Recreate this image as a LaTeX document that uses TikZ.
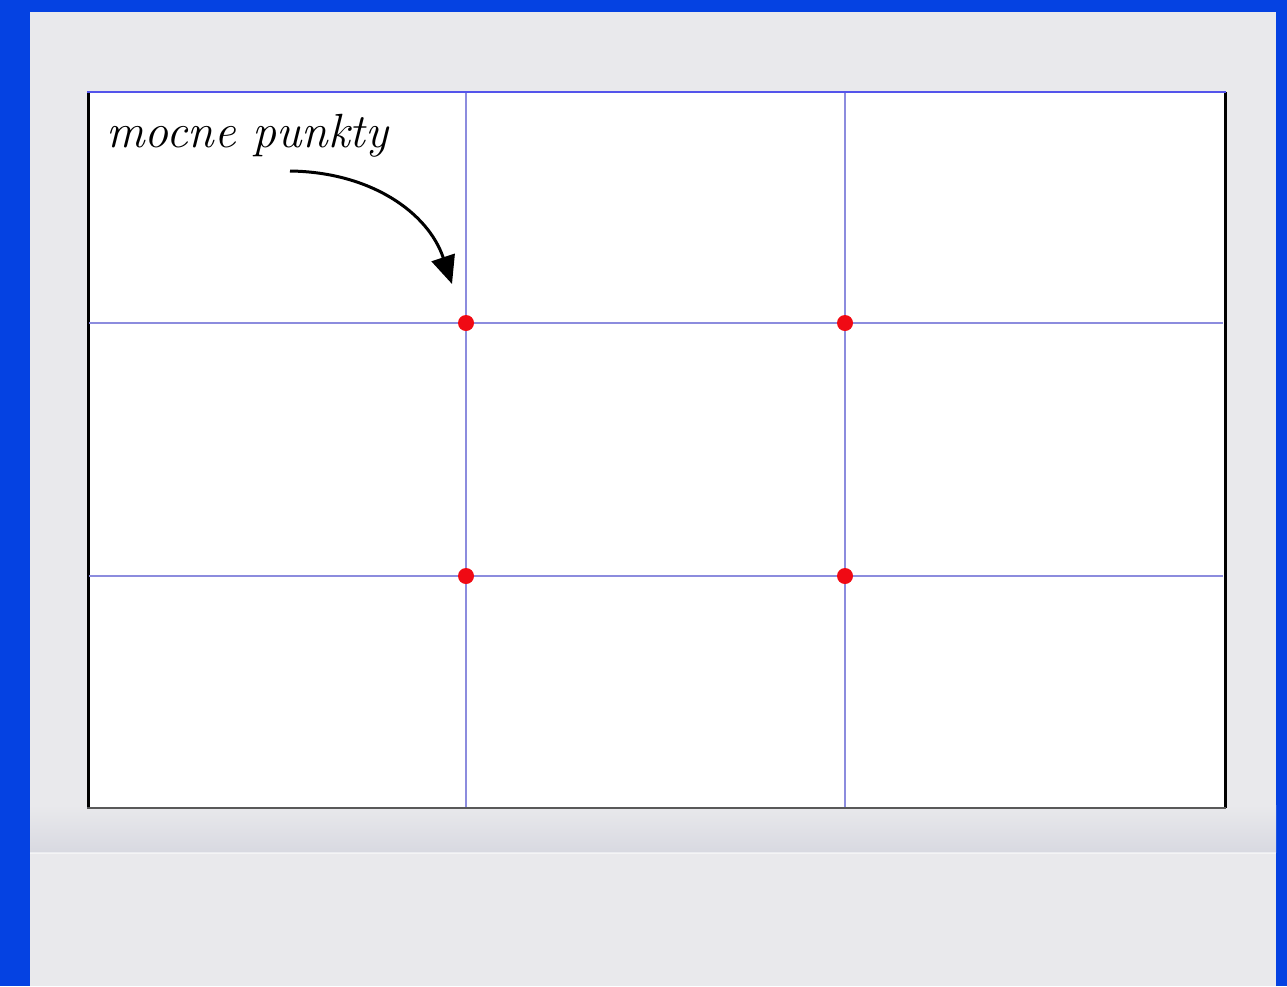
\documentclass[tikz,border=0pt]{standalone}
\usetikzlibrary{arrows.meta}
\definecolor{bgblue}{RGB}{5,66,226}
\definecolor{paper}{RGB}{233,233,236}
\definecolor{paperdark}{RGB}{216,217,225}
\definecolor{gridline}{RGB}{140,140,222}
\definecolor{dotred}{RGB}{240,10,20}
\tikzset{
  gridln/.style={draw=gridline, line width=2.4pt},
  strongpt/.style={circle, fill=dotred, inner sep=0pt, minimum size=16pt},
  pointer/.style={line width=3pt, -{Triangle[length=28pt, width=24pt]}},
  label/.style={font=\fontsize{48}{54}\selectfont\itshape, inner sep=0pt, anchor=base west}
}
\begin{document}
\begin{tikzpicture}[x=1pt, y=-1pt]
\useasboundingbox (0,0) rectangle (1287,986);
% background
\fill[bgblue] (0,0) rectangle (1287,986);
% polaroid frame
\fill[paper] (30,12) rectangle (1276,986);
\shade[top color=paper, bottom color=paperdark] (30,805) rectangle (1276,852);
\draw[white, line width=1.5pt, opacity=0.5] (30,853) -- (1276,853);
% photo area
\fill[white] (87,92) rectangle (1226,808);
\draw[black, line width=3pt] (88,92) -- (88,808);
\draw[black, line width=3pt] (1225,92) -- (1225,808);
\draw[gridline!60!blue, line width=2pt] (87,92) -- (1226,92);
\draw[black!65, line width=2.5pt] (87,808) -- (1226,808);
% grid coordinates
\coordinate (v1t) at (466,93);  \coordinate (v1b) at (466,807);
\coordinate (v2t) at (845,93);  \coordinate (v2b) at (845,807);
\coordinate (h1l) at (89,323);  \coordinate (h1r) at (1223,323);
\coordinate (h2l) at (89,576);  \coordinate (h2r) at (1223,576);
\draw[gridln] (v1t) -- (v1b);
\draw[gridln] (v2t) -- (v2b);
\draw[gridln] (h1l) -- (h1r);
\draw[gridln] (h2l) -- (h2r);
% strong points
\node[strongpt] (p1) at (466,323) {};
\node[strongpt] (p2) at (845,323) {};
\node[strongpt] (p3) at (466,576) {};
\node[strongpt] (p4) at (845,576) {};
% label and arrow
\node[label] (lbl) at (106,147) {mocne punkty};
\coordinate (arrstart) at (290,171);
\coordinate (arrtip) at (452,284);
\draw[pointer] (arrstart) .. controls (370,172) and (428,212) .. (arrtip);
\end{tikzpicture}
\end{document}
